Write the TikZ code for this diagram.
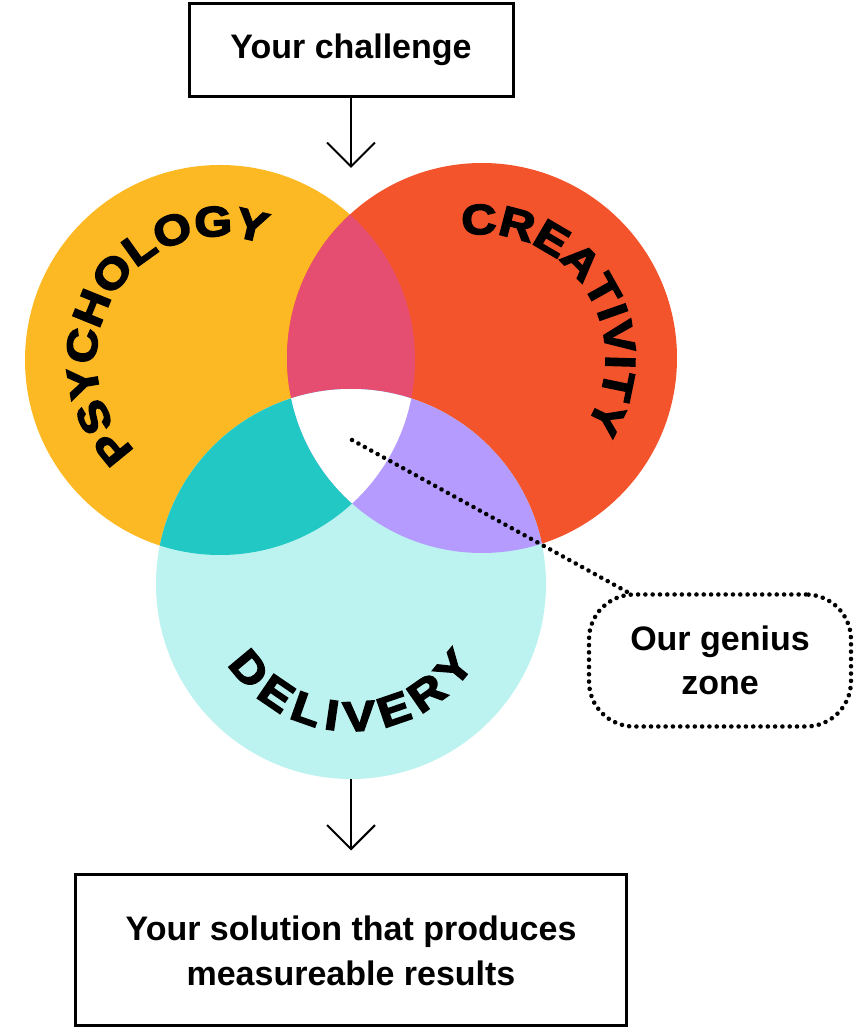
\documentclass[tikz,border=0pt]{standalone}
\usepackage{fontspec}
\setmainfont{Liberation Sans}
\newfontfamily\widefont[FakeStretch=1.15, FakeBold=4]{Liberation Sans}
\usetikzlibrary{arrows.meta,decorations.text}

\definecolor{psycol}{HTML}{FDB924}
\definecolor{crecol}{HTML}{F4542B}
\definecolor{delcol}{HTML}{BCF3F0}
\definecolor{pinkcol}{HTML}{E54E71}
\definecolor{tealcol}{HTML}{22C9C4}
\definecolor{purplecol}{HTML}{B59BFD}

\tikzset{
    box/.style={rectangle, draw, line width=3pt, align=center, font=\bfseries\fontsize{34}{45}\selectfont},
    ring/.style={circle, minimum size=390pt, inner sep=0pt},
    arr/.style={line width=2pt, -{Straight Barb[length=24pt,width=48pt]}},
    zonedots/.style={line width=4.5pt, line cap=round, dash pattern=on 0.1pt off 7.2pt},
    curved/.style={decorate, decoration={text along path, text align=center,
        text={|\widefont\bfseries\fontsize{42}{42}\selectfont|#1}}},
    curvedfit/.style={decorate, decoration={text along path, text align=fit to path,
        text={|\widefont\bfseries\fontsize{42}{42}\selectfont|#1}}}
}

\begin{document}
\begin{tikzpicture}[x=1pt, y=1pt]
    \useasboundingbox (0,0) rectangle (856,1029);

    % Input and output boxes
    \node[box, minimum width=324pt, minimum height=93pt] (challenge) at (351, 979) {Your challenge};
    \node[box, minimum width=551pt, minimum height=151pt] (solution) at (351, 78.5) {Your solution that produces\\measureable results};
    \coordinate (tip1) at (351, 861);

    % Circles
    \node[ring, fill=psycol] (psy) at (220, 669) {};
    \node[ring, fill=crecol] (cre) at (482, 671) {};
    \node[ring, fill=delcol] (del) at (351, 445) {};

    % Overlaps
    \begin{scope}
        \clip (psy.center) circle (195);
        \fill[pinkcol] (cre.center) circle (195);
        \fill[tealcol] (del.center) circle (195);
    \end{scope}
    \begin{scope}
        \clip (cre.center) circle (195);
        \fill[purplecol] (del.center) circle (195);
        \clip (psy.center) circle (195);
        \fill[white] (del.center) circle (195);
    \end{scope}

    % Curved labels
    \path[curved=PSYCHOLOGY] ([shift={(248:124)}]psy.center) arc[start angle=248, end angle=48, radius=124];
    \path[curved=CREATIVITY] ([shift={(133:124)}]cre.center) arc[start angle=133, end angle=-67, radius=124];
    \path[curvedfit=DELIVERY] ([shift={(213:147)}]del.center) arc[start angle=213, end angle=327, radius=147];

    % Genius zone
    \node[zonedots, draw, rounded corners=45pt, minimum width=262pt, minimum height=132pt, align=center,
        font=\bfseries\fontsize{34}{44}\selectfont] (genius) at (720, 368.5) {Our genius\\zone};
    \coordinate (zone) at (352, 589);

    % Connections
    \draw[arr] (challenge.south) -- (tip1);
    \draw[arr, shorten >=23pt] (del.south) -- (solution.north);
    \draw[zonedots] (zone) -- ([xshift=41pt]genius.north west);
\end{tikzpicture}
\end{document}
